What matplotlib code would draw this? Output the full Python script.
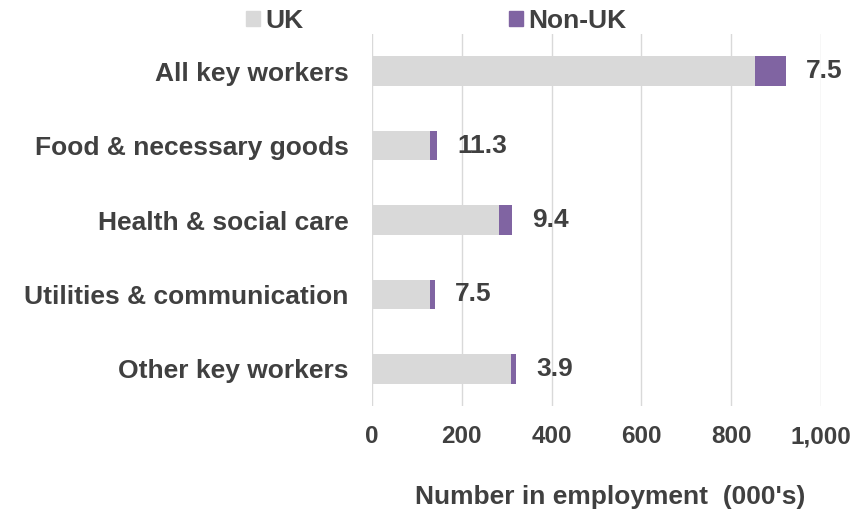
import numpy as np
from matplotlib import pyplot as plt
from matplotlib.patches import Patch

# key worker groups, employment in thousands, split by UK / non-UK
categories = ["All key workers", "Food & necessary goods", "Health & social care",
              "Utilities & communication", "Other key workers"]
uk = [853, 129, 283, 130, 309]
non_uk = [69, 16, 29, 10.5, 12.5]
pct_non_uk = ["7.5", "11.3", "9.4", "7.5", "3.9"]
xticks = [0, 200, 400, 600, 800, 1000]
xtick_labels = ["0", "200", "400", "600", "800", "1,000"]

plt.rcParams['font.family'] = ['Liberation Sans', 'DejaVu Sans']
text_col = "#404040"
grey = "#D9D9D9"
purple = "#8064A2"

fig = plt.figure(figsize=(8.68, 5.19), dpi=100)
ax = fig.add_axes([372/868, 1-406/519, (821-372)/868, (406-34)/519])

y = np.arange(len(categories))
ax.barh(y, uk, height=0.4, color=grey, zorder=2)
ax.barh(y, non_uk, left=uk, height=0.4, color=purple, zorder=2)

for i in range(len(categories)):
    ax.text(uk[i] + non_uk[i] + 45, y[i], pct_non_uk[i], va='center', ha='left',
            fontsize=19, fontweight='bold', color=text_col)

ax.set_xlim(0, 1000)
ax.set_ylim(len(categories) - 0.5, -0.5)
ax.set_yticks(y)
ax.set_yticklabels(categories, fontsize=19, fontweight='bold', color=text_col)
ax.set_xticks(xticks)
ax.set_xticklabels(xtick_labels, fontsize=17.5, fontweight='bold', color=text_col)
ax.tick_params(axis='y', length=0, pad=17)
ax.tick_params(axis='x', length=0, pad=14)
for s in ax.spines.values():
    s.set_visible(False)
ax.grid(axis='x', color=grey, linewidth=1, zorder=0)
ax.set_xlabel("Number in employment  (000's)", fontsize=19, fontweight='bold',
              color=text_col)
ax.xaxis.set_label_coords(0.53, -0.212)

handles = [Patch(color=grey, label="UK"), Patch(color=purple, label="Non-UK")]
fig.legend(handles=handles, loc='center', bbox_to_anchor=(436/868, 1-21/519), ncol=2,
           frameon=False, handlelength=0.53, handleheight=0.53,
           handletextpad=0.2, columnspacing=7.8, borderpad=0,
           prop={'weight': 'bold', 'size': 19})
for t in fig.legends[0].get_texts():
    t.set_color(text_col)

fig.savefig("out.png", dpi=100)
